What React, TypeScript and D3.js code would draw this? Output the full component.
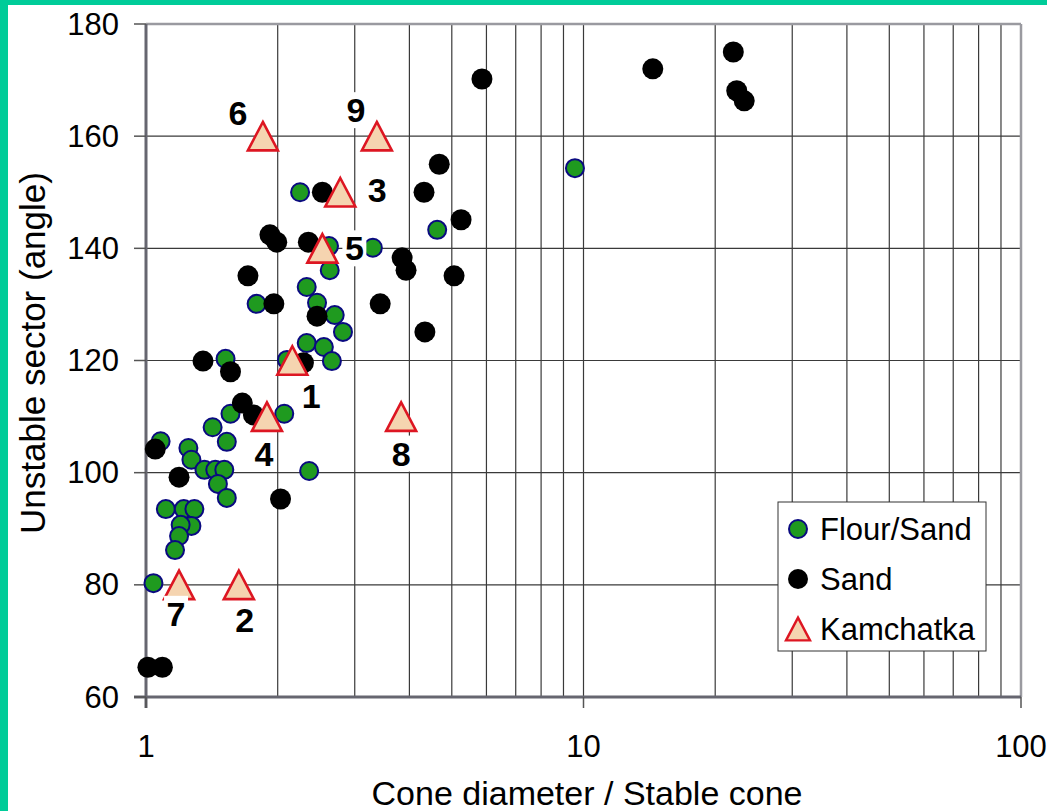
import * as d3 from "d3";

const W = 1047;
const H = 811;
const MARGIN = { top: 24, right: 26, bottom: 114, left: 146 };

// Flour/Sand mix: [cone diameter ratio, unstable sector angle]
const flourSand: [number, number][] = [
  [2.25, 150], [3.3, 140.1], [4.63, 143.3], [9.56, 154.3], [2.62, 140.4],
  [2.63, 136.1], [2.33, 133.1], [1.79, 130.1], [2.46, 130.3], [2.7, 128.1],
  [2.82, 125.1], [2.33, 123.1], [2.55, 122.4], [2.66, 119.9], [1.52, 120.3],
  [2.1, 120.1], [1.56, 110.5], [2.07, 110.5], [1.42, 108.1], [1.53, 105.5],
  [1.08, 105.6], [1.25, 104.4], [1.27, 102.3], [1.36, 100.5], [1.44, 100.5],
  [1.51, 100.5], [2.36, 100.3], [1.46, 98], [1.53, 95.5], [1.11, 93.5],
  [1.22, 93.5], [1.29, 93.5], [1.27, 90.5], [1.2, 90.7], [1.19, 88.7],
  [1.165, 86.2], [1.04, 80.3],
];

// Sand only
const sand: [number, number][] = [
  [2.53, 150], [1.92, 142.4], [1.99, 141.1], [2.35, 141.1], [1.71, 135.1],
  [1.96, 130.1], [2.46, 127.9], [3.43, 130.1], [4.34, 125.1], [3.85, 138.3],
  [3.93, 136.1], [4.68, 155], [4.32, 150], [5.25, 145.1], [5.06, 135.1],
  [5.86, 170.2], [14.4, 172], [22, 175], [22.4, 168.1], [23.3, 166.3],
  [1.35, 119.9], [1.56, 118], [1.66, 112.4], [1.76, 110.3], [2.29, 119.6],
  [1.05, 104.2], [1.19, 99.2], [2.03, 95.3], [1.01, 65.3], [1.09, 65.3],
];

// Kamchatka sites, numbered 1..9
const kamchatkaNames = ["1", "2", "3", "4", "5", "6", "7", "8", "9"];
const kamchatka: [number, number][] = [
  [2.16, 120], [1.63, 80], [2.78, 150], [1.89, 110], [2.53, 140],
  [1.85, 160], [1.19, 80], [3.83, 110], [3.37, 160],
];
// label placement relative to the marker (px)
const labelOffsets: [number, number][] = [
  [19, 35], [6, 35], [37, -2], [-3, 37], [32, 0],
  [-25, -23], [-3, 29], [0, 37], [-21, -26],
];

const xTicks = [1, 10, 100];
const yTicks = [60, 80, 100, 120, 140, 160, 180];
const legendItems = ["Flour/Sand", "Sand", "Kamchatka"];

const FONT = "'Liberation Sans', Arial, sans-serif";
const GREEN = "#1f9a1f";
const NAVY = "#0a0a80";
const TRI_FILL = "#f5d4b0";
const TRI_STROKE = "#dd1622";

const triPath = (cx: number, cy: number, s: number) => {
  const h = s * 0.95;
  return `M${cx},${cy - h / 2} L${cx + s / 2},${cy + h / 2} L${cx - s / 2},${cy + h / 2} Z`;
};

export default function App() {
  const bw = W - MARGIN.left - MARGIN.right;
  const bh = H - MARGIN.top - MARGIN.bottom;

  const x = d3.scaleLog().domain([1, 100]).range([MARGIN.left, MARGIN.left + bw]);
  const y = d3.scaleLinear().domain([60, 180]).range([MARGIN.top + bh, MARGIN.top]);

  // minor log grid 2..9, 20..90
  const vGrid: number[] = [];
  for (const dec of [1, 10]) for (let k = 2; k <= 10; k++) vGrid.push(dec * k);
  const hGrid = yTicks.slice(1, -1);

  const lx = 778, ly = 502, lw = 208, lh = 149;

  return (
    <svg width={W} height={H} style={{ position: "absolute", left: 0, top: 0, background: "#fff" }}>
      <rect x={0} y={0} width={W} height={H} fill="#fff" />
      <rect x={0} y={0} width={8} height={H} fill="#00cc99" />
      <rect x={0} y={0} width={W} height={5} fill="#00cc99" />

      {/* grid */}
      {vGrid.filter((v) => v < 100).map((v) => (
        <line key={"v" + v} x1={x(v)} x2={x(v)} y1={MARGIN.top} y2={MARGIN.top + bh} stroke="#3a3a3a" strokeWidth={1.2} />
      ))}
      {hGrid.map((v) => (
        <line key={"h" + v} x1={MARGIN.left} x2={MARGIN.left + bw} y1={y(v)} y2={y(v)} stroke="#3a3a3a" strokeWidth={1.2} />
      ))}

      {/* plot frame */}
      <line x1={MARGIN.left} x2={MARGIN.left + bw} y1={MARGIN.top} y2={MARGIN.top} stroke="#9a9aa0" strokeWidth={2.5} />
      <line x1={MARGIN.left + bw} x2={MARGIN.left + bw} y1={MARGIN.top} y2={MARGIN.top + bh} stroke="#9a9aa0" strokeWidth={2.5} />
      <line x1={MARGIN.left} x2={MARGIN.left} y1={MARGIN.top} y2={MARGIN.top + bh + 11} stroke="#666670" strokeWidth={3} />
      <line x1={MARGIN.left - 12} x2={MARGIN.left + bw} y1={MARGIN.top + bh} y2={MARGIN.top + bh} stroke="#666670" strokeWidth={3} />

      {/* ticks */}
      {yTicks.map((v) => (
        <g key={"yt" + v}>
          <line x1={MARGIN.left - 12} x2={MARGIN.left} y1={y(v)} y2={y(v)} stroke="#555" strokeWidth={1.5} />
          <text x={MARGIN.left - 27} y={y(v)} textAnchor="end" dominantBaseline="central" fontFamily={FONT} fontSize={31} fill="#000">
            {v}
          </text>
        </g>
      ))}
      {xTicks.map((v) => (
        <g key={"xt" + v}>
          <line x1={x(v)} x2={x(v)} y1={MARGIN.top + bh} y2={MARGIN.top + bh + 11} stroke="#555" strokeWidth={1.5} />
          <text x={x(v)} y={MARGIN.top + bh + 49} textAnchor="middle" dominantBaseline="central" fontFamily={FONT} fontSize={31} fill="#000">
            {v}
          </text>
        </g>
      ))}

      {/* axis titles */}
      <text x={587} y={793} textAnchor="middle" dominantBaseline="central" fontFamily={FONT} fontSize={34} fill="#000">
        Cone diameter / Stable cone
      </text>
      <text transform={`translate(32,353) rotate(-90)`} textAnchor="middle" dominantBaseline="central" fontFamily={FONT} fontSize={35} fill="#000">
        Unstable sector (angle)
      </text>

      {/* series */}
      {flourSand.map(([a, b], i) => (
        <circle key={"f" + i} cx={x(a)} cy={y(b)} r={9} fill={GREEN} stroke={NAVY} strokeWidth={2} />
      ))}
      {sand.map(([a, b], i) => (
        <circle key={"s" + i} cx={x(a)} cy={y(b)} r={10.5} fill="#000" />
      ))}
      {kamchatka.map(([a, b], i) => (
        <path key={"k" + i} d={triPath(x(a), y(b), 30)} fill={TRI_FILL} stroke={TRI_STROKE} strokeWidth={2.6} strokeLinejoin="miter" />
      ))}
      {kamchatka.map(([a, b], i) => {
        const cx = x(a) + labelOffsets[i][0];
        const cy = y(b) + labelOffsets[i][1];
        return (
          <g key={"kl" + i}>
            <rect x={cx - 12} y={cy - 18} width={24} height={36} fill="#fff" />
            <text x={cx} y={cy} textAnchor="middle" dominantBaseline="central" fontFamily={FONT} fontWeight="bold" fontSize={34} fill="#000">
              {kamchatkaNames[i]}
            </text>
          </g>
        );
      })}

      {/* legend */}
      <rect x={lx} y={ly} width={lw} height={lh} fill="#fff" stroke="#333" strokeWidth={1} />
      {legendItems.map((name, i) => {
        const cy = ly + 27 + i * 50;
        const cx = lx + 20;
        return (
          <g key={"lg" + i}>
            {i === 0 && <circle cx={cx} cy={cy} r={9} fill={GREEN} stroke={NAVY} strokeWidth={2} />}
            {i === 1 && <circle cx={cx} cy={cy} r={10} fill="#000" />}
            {i === 2 && <path d={triPath(cx, cy, 24)} fill={TRI_FILL} stroke={TRI_STROKE} strokeWidth={2.4} />}
            <text x={lx + 42} y={cy} dominantBaseline="central" fontFamily={FONT} fontSize={31} fill="#000">
              {name}
            </text>
          </g>
        );
      })}
    </svg>
  );
}
